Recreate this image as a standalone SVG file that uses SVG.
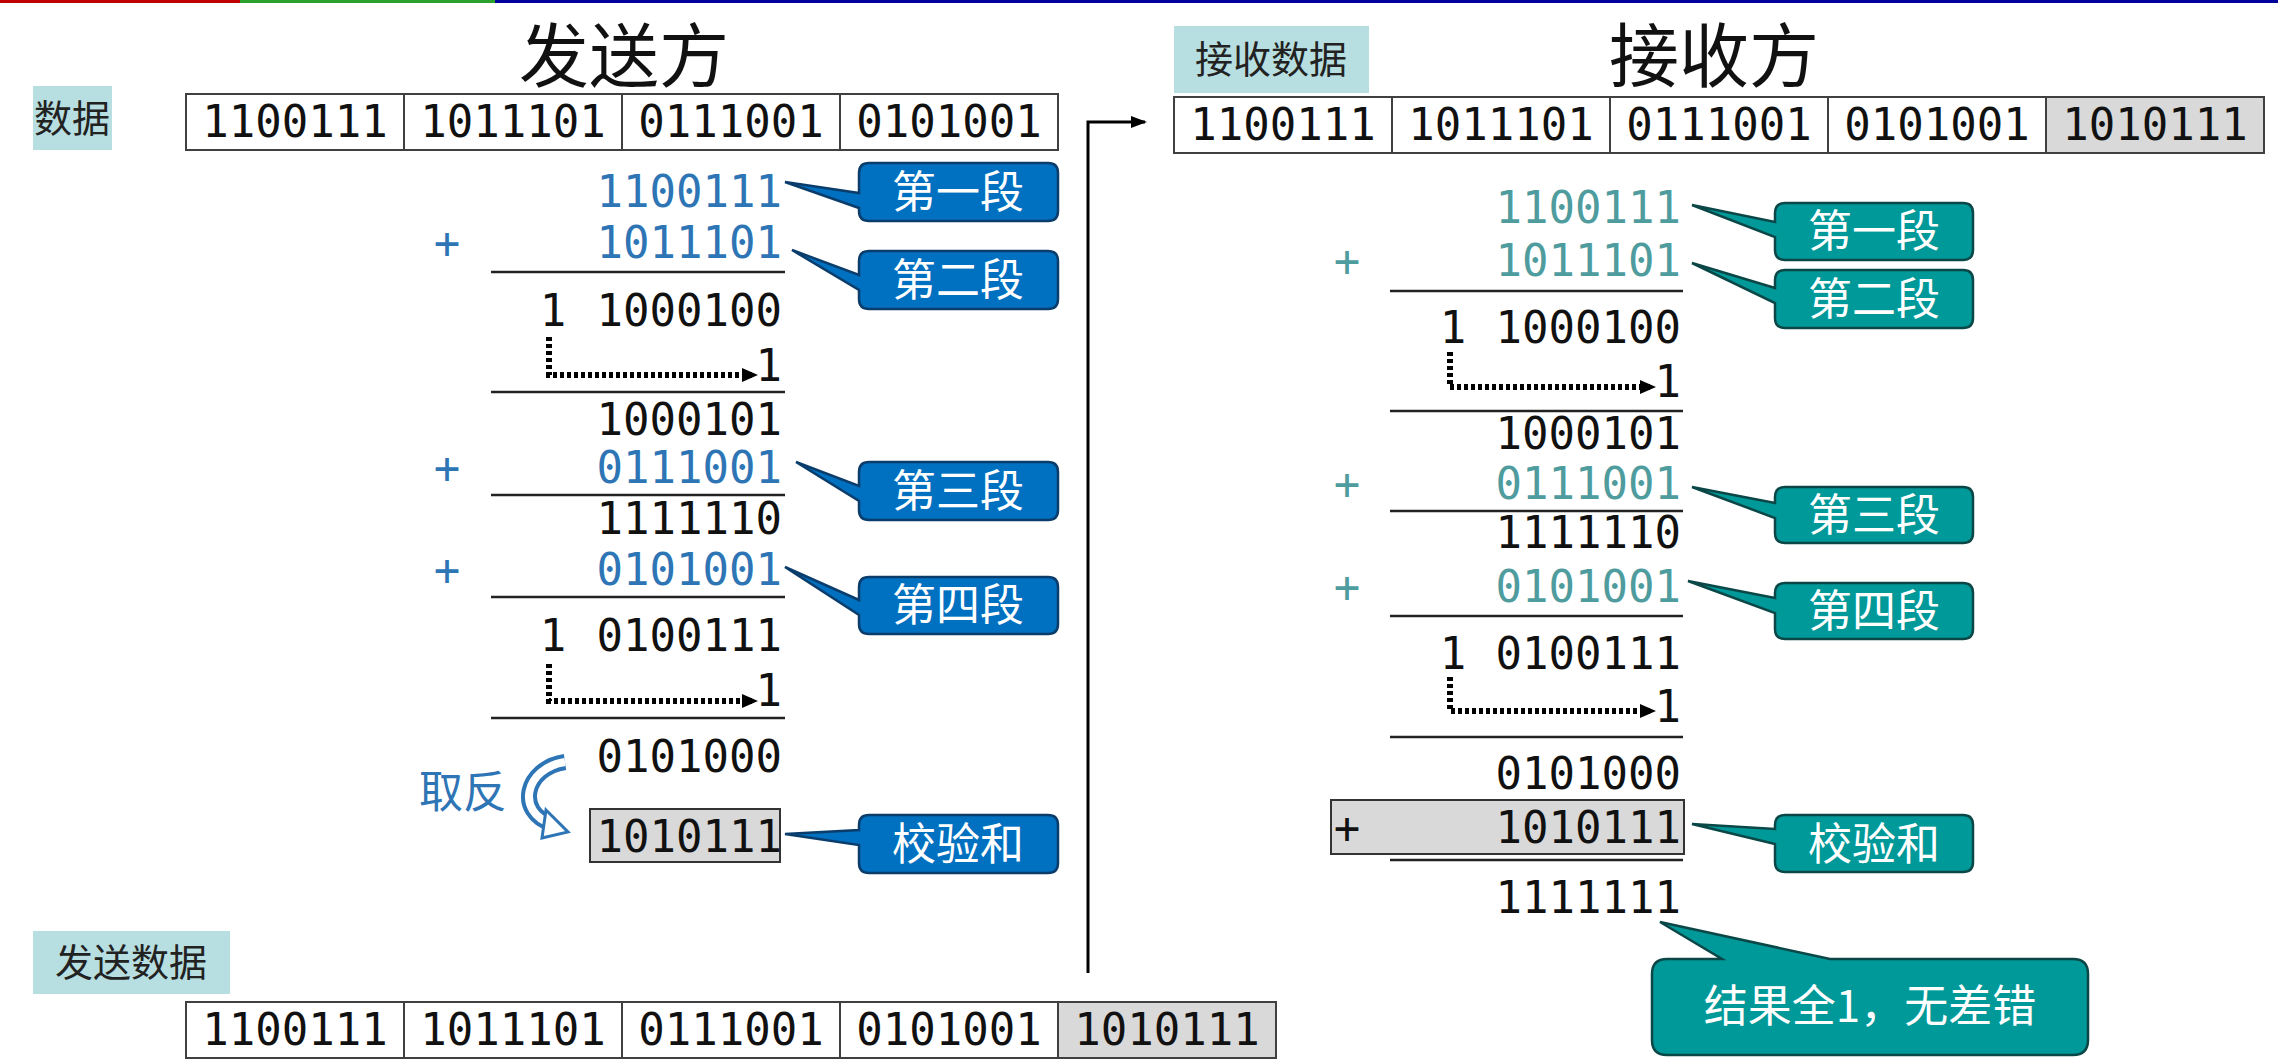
<svg xmlns="http://www.w3.org/2000/svg" width="2278" height="1060" viewBox="0 0 2278 1060">
<style>
.num{font-family:"DejaVu Sans Mono","Liberation Mono",monospace;font-size:44px;fill:#111}
.bl{fill:#2E75B6}.tl{fill:#4F9C9E}
.cell{fill:#fff;stroke:#404040;stroke-width:2}
.g{fill:#D9D9D9}
.lab{fill:#B7DEE0}
.cjk{font-family:"Noto Sans CJK SC",sans-serif}
.ttl{font-size:70px;fill:#111;text-anchor:middle}
.lt{font-size:38px;fill:#222}
.cb{fill:#0070C0;stroke:#0A3D6B;stroke-width:2.5}
.ct{fill:#009999;stroke:#0B4747;stroke-width:2.5}
.cw{font-size:44px;fill:#fff;text-anchor:middle}
.rule{stroke:#222;stroke-width:2.5}
.dot{fill:none;stroke:#000;stroke-width:6;stroke-dasharray:4 3}
.e{text-anchor:end}.m{text-anchor:middle}
</style>
<defs>
<marker id="ah" markerWidth="16" markerHeight="16" refX="10" refY="8" orient="auto" markerUnits="userSpaceOnUse" viewBox="0 0 16 16"><path d="M0,1 L16,8 L0,15 Z" fill="#000"/></marker>
<marker id="ah2" markerWidth="16" markerHeight="16" refX="14" refY="8" orient="auto" markerUnits="userSpaceOnUse" viewBox="0 0 16 16"><path d="M0,2 L16,8 L0,14 Z" fill="#000"/></marker>
</defs>
<rect x="0" y="0" width="2278" height="1060" fill="#fff"/>
<rect x="0" y="0" width="240" height="3" fill="#C00000"/>
<rect x="240" y="0" width="255" height="3" fill="#2CA02C"/>
<rect x="495" y="0" width="1783" height="3" fill="#00009C"/>

<g id="sender-title"><text x="624" y="82" class="cjk ttl">发送方</text></g>
<g id="receiver-title"><text x="1714" y="82" class="cjk ttl">接收方</text></g>

<g id="data-label"><rect x="33" y="86" width="79" height="64" class="lab"/><text x="72" y="132" class="cjk lt m">数据</text></g>
<g id="data-row">
<rect x="186" y="94" width="218" height="56" class="cell"/><rect x="404" y="94" width="218" height="56" class="cell"/><rect x="622" y="94" width="218" height="56" class="cell"/><rect x="840" y="94" width="218" height="56" class="cell"/>
<text x="295" y="137" class="num m">1100111</text><text x="513" y="137" class="num m">1011101</text><text x="731" y="137" class="num m">0111001</text><text x="949" y="137" class="num m">0101001</text>
</g>

<g id="send-label"><rect x="33" y="931" width="197" height="63" class="lab"/><text x="131" y="976" class="cjk lt m">发送数据</text></g>
<g id="send-row">
<rect x="186" y="1002" width="218" height="56" class="cell"/><rect x="404" y="1002" width="218" height="56" class="cell"/><rect x="622" y="1002" width="218" height="56" class="cell"/><rect x="840" y="1002" width="218" height="56" class="cell"/><rect x="1058" y="1002" width="218" height="56" class="cell g"/>
<text x="295" y="1045" class="num m">1100111</text><text x="513" y="1045" class="num m">1011101</text><text x="731" y="1045" class="num m">0111001</text><text x="949" y="1045" class="num m">0101001</text><text x="1167" y="1045" class="num m">1010111</text>
</g>

<g id="recv-label"><rect x="1174" y="26" width="195" height="67" class="lab"/><text x="1271" y="73" class="cjk lt m">接收数据</text></g>
<g id="recv-row">
<rect x="1174" y="97" width="218" height="56" class="cell"/><rect x="1392" y="97" width="218" height="56" class="cell"/><rect x="1610" y="97" width="218" height="56" class="cell"/><rect x="1828" y="97" width="218" height="56" class="cell"/><rect x="2046" y="97" width="218" height="56" class="cell g"/>
<text x="1283" y="140" class="num m">1100111</text><text x="1501" y="140" class="num m">1011101</text><text x="1719" y="140" class="num m">0111001</text><text x="1937" y="140" class="num m">0101001</text><text x="2155" y="140" class="num m">1010111</text>
</g>

<g id="connectors">
<path d="M1088,973 V122 H1145" fill="none" stroke="#000" stroke-width="3" marker-end="url(#ah2)"/>
<path d="M549,337 V375 H752" class="dot" marker-end="url(#ah)"/>
<path d="M549,664 V701 H752" class="dot" marker-end="url(#ah)"/>
<path d="M1450,352 V387 H1650" class="dot" marker-end="url(#ah)"/>
<path d="M1450,677 V711 H1650" class="dot" marker-end="url(#ah)"/>
</g>

<g id="sender-calc">
<text x="782" y="207" class="num e bl">1100111</text>
<text x="447" y="258" class="num m bl">+</text><text x="782" y="258" class="num e bl">1011101</text>
<line x1="491" y1="272" x2="785" y2="272" class="rule"/>
<text x="553" y="326" class="num m">1</text><text x="782" y="326" class="num e">1000100</text>
<text x="782" y="381" class="num e">1</text>
<line x1="491" y1="392" x2="785" y2="392" class="rule"/>
<text x="782" y="435" class="num e">1000101</text>
<text x="447" y="483" class="num m bl">+</text><text x="782" y="483" class="num e bl">0111001</text>
<line x1="491" y1="495" x2="785" y2="495" class="rule"/>
<text x="782" y="534" class="num e">1111110</text>
<text x="447" y="585" class="num m bl">+</text><text x="782" y="585" class="num e bl">0101001</text>
<line x1="491" y1="597" x2="785" y2="597" class="rule"/>
<text x="553" y="651" class="num m">1</text><text x="782" y="651" class="num e">0100111</text>
<text x="782" y="706" class="num e">1</text>
<line x1="491" y1="718" x2="785" y2="718" class="rule"/>
<text x="782" y="772" class="num e">0101000</text>
</g>

<g id="invert">
<text x="419" y="808" class="cjk" font-size="44" fill="#2E75B6">取反</text>
<path d="M565,762 C525,768 515,812 552,824" fill="none" stroke="#2E75B6" stroke-width="16"/>
<path d="M565,762 C525,768 515,812 552,824" fill="none" stroke="#fff" stroke-width="8"/>
<path d="M546,810 L568,832 L542,838 Z" fill="#fff" stroke="#2E75B6" stroke-width="3"/>
</g>

<g id="checksum-box"><rect x="590" y="809" width="190" height="53" fill="#D9D9D9" stroke="#333" stroke-width="2"/><text x="782" y="852" class="num e">1010111</text></g>

<g id="callout-s1"><path class="cb" d="M869,163 H1048 Q1058,163 1058,173 V211 Q1058,221 1048,221 H869 Q859,221 859,211 V208 L785,182 L859,193 V173 Q859,163 869,163 Z"/><text x="958" y="208" class="cjk cw">第一段</text></g>
<g id="callout-s2"><path class="cb" d="M869,251 H1048 Q1058,251 1058,261 V299 Q1058,309 1048,309 H869 Q859,309 859,299 V290 L792,250 L859,275 V261 Q859,251 869,251 Z"/><text x="958" y="296" class="cjk cw">第二段</text></g>
<g id="callout-s3"><path class="cb" d="M869,462 H1048 Q1058,462 1058,472 V510 Q1058,520 1048,520 H869 Q859,520 859,510 V501 L796,462 L859,486 V472 Q859,462 869,462 Z"/><text x="958" y="507" class="cjk cw">第三段</text></g>
<g id="callout-s4"><path class="cb" d="M869,577 H1048 Q1058,577 1058,587 V624 Q1058,634 1048,634 H869 Q859,634 859,624 V615 L785,567 L859,600 V587 Q859,577 869,577 Z"/><text x="958" y="621" class="cjk cw">第四段</text></g>
<g id="callout-sc"><path class="cb" d="M869,815 H1048 Q1058,815 1058,825 V863 Q1058,873 1048,873 H869 Q859,873 859,863 V845 L785,834 L859,830 V825 Q859,815 869,815 Z"/><text x="958" y="860" class="cjk cw">校验和</text></g>

<g id="receiver-calc">
<text x="1681" y="223" class="num e tl">1100111</text>
<text x="1347" y="276" class="num m tl">+</text><text x="1681" y="276" class="num e tl">1011101</text>
<line x1="1390" y1="291" x2="1683" y2="291" class="rule"/>
<text x="1453" y="343" class="num m">1</text><text x="1681" y="343" class="num e">1000100</text>
<text x="1681" y="397" class="num e">1</text>
<line x1="1390" y1="411" x2="1683" y2="411" class="rule"/>
<text x="1681" y="449" class="num e">1000101</text>
<text x="1347" y="499" class="num m tl">+</text><text x="1681" y="499" class="num e tl">0111001</text>
<line x1="1390" y1="511" x2="1683" y2="511" class="rule"/>
<text x="1681" y="548" class="num e">1111110</text>
<text x="1347" y="602" class="num m tl">+</text><text x="1681" y="602" class="num e tl">0101001</text>
<line x1="1390" y1="616" x2="1683" y2="616" class="rule"/>
<text x="1453" y="669" class="num m">1</text><text x="1681" y="669" class="num e">0100111</text>
<text x="1681" y="722" class="num e">1</text>
<line x1="1390" y1="737" x2="1683" y2="737" class="rule"/>
<text x="1681" y="789" class="num e">0101000</text>
<rect x="1331" y="800" width="353" height="54" fill="#D9D9D9" stroke="#333" stroke-width="2"/>
<text x="1347" y="843" class="num m">+</text><text x="1681" y="843" class="num e">1010111</text>
<line x1="1390" y1="860" x2="1683" y2="860" class="rule"/>
<text x="1681" y="913" class="num e">1111111</text>
</g>

<g id="callout-r1"><path class="ct" d="M1785,203 H1963 Q1973,203 1973,213 V250 Q1973,260 1963,260 H1785 Q1775,260 1775,250 V237 L1692,205 L1775,222 V213 Q1775,203 1785,203 Z"/><text x="1874" y="247" class="cjk cw">第一段</text></g>
<g id="callout-r2"><path class="ct" d="M1785,270 H1963 Q1973,270 1973,280 V318 Q1973,328 1963,328 H1785 Q1775,328 1775,318 V303 L1692,263 L1775,288 V280 Q1775,270 1785,270 Z"/><text x="1874" y="315" class="cjk cw">第二段</text></g>
<g id="callout-r3"><path class="ct" d="M1785,487 H1963 Q1973,487 1973,497 V533 Q1973,543 1963,543 H1785 Q1775,543 1775,533 V518 L1692,487 L1775,503 V497 Q1775,487 1785,487 Z"/><text x="1874" y="531" class="cjk cw">第三段</text></g>
<g id="callout-r4"><path class="ct" d="M1785,583 H1963 Q1973,583 1973,593 V629 Q1973,639 1963,639 H1785 Q1775,639 1775,629 V613 L1688,581 L1775,598 V593 Q1775,583 1785,583 Z"/><text x="1874" y="627" class="cjk cw">第四段</text></g>
<g id="callout-rc"><path class="ct" d="M1785,815 H1963 Q1973,815 1973,825 V862 Q1973,872 1963,872 H1785 Q1775,872 1775,862 V844 L1692,824 L1775,829 V825 Q1775,815 1785,815 Z"/><text x="1874" y="860" class="cjk cw">校验和</text></g>
<g id="callout-result"><path class="ct" d="M1667,959 H1722 L1660,922 L1830,959 H2073 Q2088,959 2088,974 V1040 Q2088,1055 2073,1055 H1667 Q1652,1055 1652,1040 V974 Q1652,959 1667,959 Z"/><text x="1870" y="1022" class="cjk cw">结果全1，无差错</text></g>
</svg>
